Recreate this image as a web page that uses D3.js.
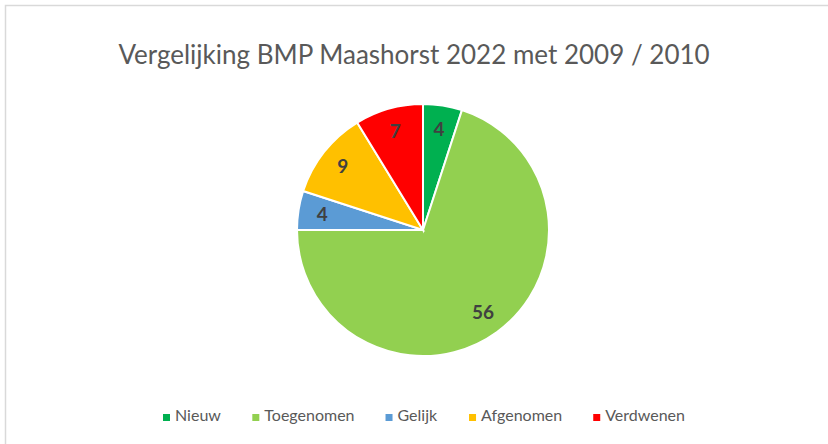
<!DOCTYPE html>
<html>
<head>
<meta charset="utf-8">
<script src="https://cdn.jsdelivr.net/npm/d3@7"></script>
<style>
  body { margin: 0; background: #fff; }
  svg { display: block; font-family: Lato, "Open Sans", sans-serif; }
</style>
</head>
<body>
<svg id="chart" width="828" height="444"></svg>
<script>
// data
var categories = ["Nieuw", "Toegenomen", "Gelijk", "Afgenomen", "Verdwenen"];
var values = [4, 56, 4, 9, 7];
var colors = ["#00b050", "#92d050", "#5b9bd5", "#ffc000", "#ff0000"];
var title = "Vergelijking BMP Maashorst 2022 met 2009 / 2010";

var svg = d3.select("#chart"),
    width = +svg.attr("width"),
    height = +svg.attr("height");

// chart border (light grey frame, open at right / bottom like the screenshot)
svg.append("path")
    .attr("d", "M5.5,444 L5.5,5.5 L828,5.5")
    .attr("fill", "none")
    .attr("stroke", "#d9d9d9")
    .attr("stroke-width", 1.5);

svg.append("text")
    .attr("x", 414)
    .attr("y", 64)
    .attr("text-anchor", "middle")
    .attr("fill", "#595959")
    .style("font-size", "26px")
    .text(title);

var data = categories.map(function(c, i) { return {name: c, value: values[i], color: colors[i]}; });

var radius = 126;
var pie = d3.pie().sort(null).value(function(d) { return d.value; });
var arc = d3.arc().innerRadius(0).outerRadius(radius);
var labelArc = d3.arc().innerRadius(radius * 0.81).outerRadius(radius * 0.81);

var g = svg.append("g").attr("transform", "translate(423,230)");

var slices = g.selectAll("g.slice")
    .data(pie(data))
    .enter().append("g")
    .attr("class", "slice");

slices.append("path")
    .attr("d", arc)
    .attr("fill", function(d) { return d.data.color; })
    .attr("stroke", "#fff")
    .attr("stroke-width", 2);

slices.append("text")
    .attr("transform", function(d) { return "translate(" + labelArc.centroid(d) + ")"; })
    .attr("text-anchor", "middle")
    .attr("dy", "0.35em")
    .attr("fill", "#404040")
    .style("font-size", "19px")
    .style("font-weight", "bold")
    .text(function(d) { return d.data.value; });

// legend
var legend = svg.append("g").attr("class", "legend");
var items = legend.selectAll("g")
    .data(data)
    .enter().append("g");

items.append("rect")
    .attr("width", 7)
    .attr("height", 7)
    .attr("y", -7)
    .attr("fill", function(d) { return d.color; });

items.append("text")
    .attr("x", 12)
    .attr("fill", "#595959")
    .style("font-size", "16px")
    .text(function(d) { return d.name; });

// spread the entries over the same span as the reference legend
var span = 522, sum = 0, widths = [];
items.each(function() { var w = this.getBBox().width; widths.push(w); sum += w; });
var gap = (span - sum) / (data.length - 1);
var x = 0;
items.each(function(d, i) {
    d3.select(this).attr("transform", "translate(" + x + ",0)");
    x += widths[i] + gap;
});
legend.attr("transform", "translate(163,421)");
</script>
</body>
</html>
